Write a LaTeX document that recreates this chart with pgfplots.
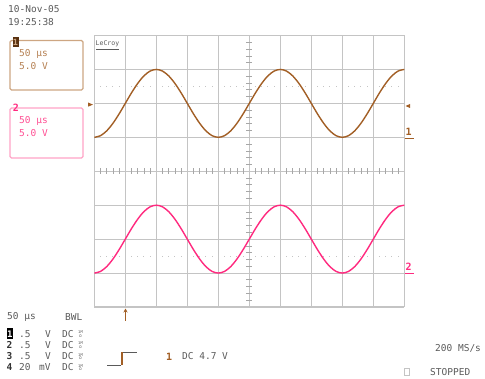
\documentclass[border=0pt]{standalone}
\usepackage{pgfplots}
\pgfplotsset{compat=1.18}
\usepackage{pgfplotstable}
\usetikzlibrary{arrows.meta}
\usepackage{fontspec}
\setmainfont{DejaVu Sans}
\newfontfamily\scopefont{DejaVu Sans Mono}

\definecolor{gridgray}{HTML}{C4C4C4}
\definecolor{txtgray}{HTML}{5A5A5A}
\definecolor{chone}{HTML}{A25F26}
\definecolor{chonelight}{HTML}{B58052}
\definecolor{choneframe}{HTML}{CDA682}
\definecolor{chonedark}{HTML}{5A3210}
\definecolor{chtwo}{HTML}{FF2A7F}
\definecolor{chtwolight}{HTML}{FF4F93}
\definecolor{chtwoframe}{HTML}{FFA3C6}

% time in microseconds, channel voltages in volts
\pgfplotstableread{
t   c1     c2
0   5.00  -15.00
10  5.24  -14.76
20  5.95  -14.05
30  7.06  -12.94
40  8.45  -11.55
50  10.00 -10.00
60  11.55 -8.45
70  12.94 -7.06
80  14.05 -5.95
90  14.76 -5.24
100 15.00 -5.00
110 14.76 -5.24
120 14.05 -5.95
130 12.94 -7.06
140 11.55 -8.45
150 10.00 -10.00
160 8.45  -11.55
170 7.06  -12.94
180 5.95  -14.05
190 5.24  -14.76
200 5.00  -15.00
210 5.24  -14.76
220 5.95  -14.05
230 7.06  -12.94
240 8.45  -11.55
250 10.00 -10.00
260 11.55 -8.45
270 12.94 -7.06
280 14.05 -5.95
290 14.76 -5.24
300 15.00 -5.00
310 14.76 -5.24
320 14.05 -5.95
330 12.94 -7.06
340 11.55 -8.45
350 10.00 -10.00
360 8.45  -11.55
370 7.06  -12.94
380 5.95  -14.05
390 5.24  -14.76
400 5.00  -15.00
410 5.24  -14.76
420 5.95  -14.05
430 7.06  -12.94
440 8.45  -11.55
450 10.00 -10.00
460 11.55 -8.45
470 12.94 -7.06
480 14.05 -5.95
490 14.76 -5.24
500 15.00 -5.00
}\traces

\begin{document}
\begin{tikzpicture}
\useasboundingbox (0pt,0pt) rectangle (485pt,-379pt);

\begin{axis}[
  at={(94.3pt,-307pt)}, anchor=south west,
  scale only axis, width=310pt, height=271.5pt,
  xmin=0, xmax=500, ymin=-20, ymax=20,
  xtick distance=50, ytick distance=5,
  xticklabels={}, yticklabels={},
  major tick length=0pt,
  grid=major,
  major grid style={gridgray, line width=0.9pt},
  axis line style={gridgray, line width=1pt},
  clip=true,
]
\addplot[chone, line width=1.4pt, smooth] table[x=t, y=c1] {\traces};
\addplot[chtwo, line width=1.4pt, smooth] table[x=t, y=c2] {\traces};
\end{axis}

\begin{scope}[x=1pt, y=-1pt]
  % minor ticks on the centre cross
  \foreach \d in {0,...,9}{
    \foreach \k in {1,...,4}{
      \draw[gridgray!85!black, line width=0.7pt] ({94.3+(\d*5+\k)*6.2},168.3) -- ++(0,6);
      % dotted reference lines
      \fill[gridgray] ({94.3+(\d*5+\k)*6.2-0.5},85.9) rectangle ++(1,1);
      \fill[gridgray] ({94.3+(\d*5+\k)*6.2-0.5},255.6) rectangle ++(1,1);
    }
  }
  \foreach \d in {0,...,7}{
    \foreach \k in {1,...,4}{
      \draw[gridgray!85!black, line width=0.7pt] (246.3,{35.5+(\d*5+\k)*6.7875}) -- ++(6,0);
    }
  }

  % LeCroy mark
  \node[anchor=west, inner sep=0, font=\scopefont\fontsize{6.5}{7}\selectfont, text=txtgray] at (95.5,43.5) {LeCroy};
  \draw[txtgray, line width=0.9pt] (96,49.5) -- (119,49.5);

  % channel markers
  \fill[chone] (88,102.5) -- (93,104.6) -- (88,106.7) -- cycle;
  \fill[chone] (410,104) -- (405.5,106) -- (410,108) -- cycle;
  \node[anchor=base west, inner sep=0, font=\scopefont\bfseries\fontsize{10}{10}\selectfont, text=chone] at (405.5,136) {1};
  \draw[chone, line width=1pt] (404.5,138.3) -- (414,138.3);
  \node[anchor=base west, inner sep=0, font=\scopefont\bfseries\fontsize{10}{10}\selectfont, text=chtwo] at (405.5,271) {2};
  \draw[chtwo, line width=1pt] (404.5,273.3) -- (414,273.3);

  % trigger position
  \draw[chone, line width=1.3pt, -{Stealth[length=4pt,width=4pt]}] (125.5,321) -- (125.5,308.5);

  % date and time
  \begin{scope}[every node/.style={anchor=west, inner sep=0, font=\scopefont\fontsize{9.5}{10}\selectfont, text=txtgray}]
    \node at (8,9.5) {10-Nov-05};
    \node at (8,22.5) {19:25:38};
  \end{scope}

  % channel 1 box
  \draw[choneframe, line width=1.1pt, rounded corners=1.5pt] (10,40.5) rectangle (83,90);
  \fill[chonedark] (12.5,37.5) rectangle (18.5,47.5);
  \node[inner sep=0, font=\scopefont\bfseries\fontsize{8.5}{9}\selectfont, text=choneframe] at (15.5,42.5) {1};
  \begin{scope}[every node/.style={anchor=west, inner sep=0, font=\scopefont\fontsize{9.5}{10}\selectfont, text=chonelight}]
    \node at (19,53.5) {50 µs};
    \node at (19,65.7) {5.0 V};
  \end{scope}

  % channel 2 box
  \draw[chtwoframe, line width=1.1pt, rounded corners=1.5pt] (10,108) rectangle (83,158);
  \node[inner sep=0, font=\scopefont\bfseries\fontsize{10}{10}\selectfont, text=chtwo] at (16,107.5) {2};
  \begin{scope}[every node/.style={anchor=west, inner sep=0, font=\scopefont\fontsize{9.5}{10}\selectfont, text=chtwolight}]
    \node at (19,120.8) {50 µs};
    \node at (19,132.8) {5.0 V};
  \end{scope}

  % timebase and channel summary
  \begin{scope}[every node/.style={anchor=west, inner sep=0, font=\scopefont\fontsize{9.5}{10}\selectfont, text=txtgray}]
    \node at (7,317) {50 µs};
    \node at (65,317) {BWL};
    \node at (19,334) {.5};
    \node at (45,334) {V};
    \node at (62,334) {DC};
    \node at (19,345) {.5};
    \node at (45,345) {V};
    \node at (62,345) {DC};
    \node at (19,356.5) {.5};
    \node at (45,356.5) {V};
    \node at (62,356.5) {DC};
    \node at (19,367.5) {20};
    \node at (39,367.5) {mV};
    \node at (62,367.5) {DC};
    \node at (182,356.5) {DC 4.7 V};
    \node at (435,348.5) {200 MS/s};
    \node at (430,372) {STOPPED};
  \end{scope}
  \fill[black] (6.5,328.5) rectangle (13,339.5);
  \node[inner sep=0, font=\scopefont\bfseries\fontsize{9}{10}\selectfont, text=white] at (9.8,334) {1};
  \begin{scope}[every node/.style={anchor=west, inner sep=0, font=\scopefont\bfseries\fontsize{9.5}{10}\selectfont, text=black!80}]
    \node at (6.5,345) {2};
    \node at (6.5,356.5) {3};
    \node at (6.5,367.5) {4};
  \end{scope}
  \foreach \yy in {334,345,356.5,367.5}{
    \node[inner sep=0, align=center, font=\scopefont\fontsize{3.8}{3.5}\selectfont, text=txtgray] at (80.5,\yy) {1M\\Ω};
  }

  % trigger slope symbol
  \draw[txtgray, line width=0.9pt] (107,365) -- (121,365);
  \draw[chone, line width=1.1pt] (122,365.5) -- (122,352.5);
  \draw[txtgray, line width=0.9pt] (123,352.5) -- (137,352.5);
  \node[anchor=west, inner sep=0, font=\scopefont\bfseries\fontsize{10}{10}\selectfont, text=chone] at (166,356.5) {1};

  % acquisition status square
  \draw[gridgray, line width=0.8pt] (404.5,368) rectangle (409.5,375);
\end{scope}
\end{tikzpicture}
\end{document}
